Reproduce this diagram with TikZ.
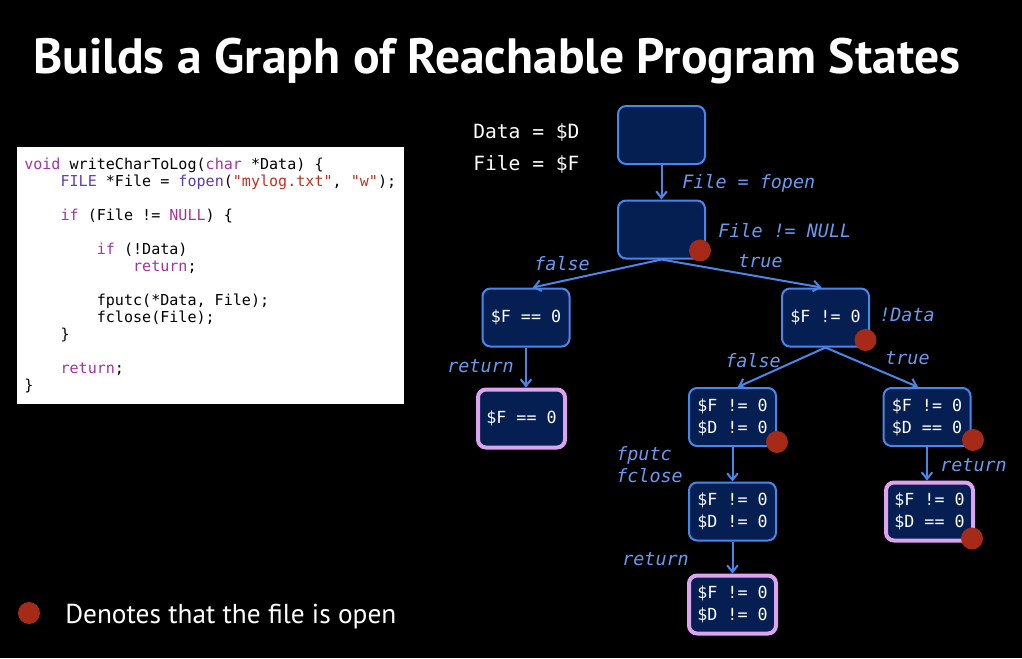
\documentclass[tikz,border=0pt]{standalone}
\usepackage{fontspec}
\setmainfont{PT Sans}
\setmonofont{DejaVu Sans Mono}
\usepackage{xcolor}
\usepackage{tikz}
\usetikzlibrary{positioning,calc,arrows.meta}
\definecolor{slidebg}{HTML}{000000}
\definecolor{statefill}{HTML}{061F52}
\definecolor{stateline}{HTML}{4A86E8}
\definecolor{edgelbl}{HTML}{6A9AF0}
\definecolor{exitline}{HTML}{DCA4EF}
\definecolor{opendot}{HTML}{A52A18}
\definecolor{kwcol}{HTML}{A8329E}
\definecolor{tycol}{HTML}{6A3DAF}
\definecolor{fncol}{HTML}{5B3AAE}
\definecolor{strcol}{HTML}{C4301E}
\newcommand{\kw}[1]{\textcolor{kwcol}{#1}}
\newcommand{\ty}[1]{\textcolor{tycol}{#1}}
\newcommand{\fn}[1]{\textcolor{fncol}{#1}}
\newcommand{\st}[1]{\textcolor{strcol}{#1}}
\newcommand{\ind}[1]{\hphantom{#1}}
\newcommand{\monofont}[2]{\ttfamily\fontsize{#1}{#2}\selectfont}
% fixed width spaces, set inside the node text (align=left resets them)
\newcommand{\fixsp}{\spaceskip=\fontcharwd\font`0\relax\xspaceskip=\spaceskip}

\begin{document}
\begin{tikzpicture}[x=0.75pt, y=-0.75pt,
  state/.style={draw=stateline, line width=1.5pt, fill=statefill, rounded corners=6pt,
    minimum width=65.25pt, minimum height=43.5pt, inner sep=0pt, align=left,
    text=white, font=\monofont{12.5pt}{16.5pt}},
  exitstate/.style={state, draw=exitline, line width=3pt},
  flow/.style={draw=stateline, line width=1.5pt, -{Straight Barb[length=5pt,width=8pt]}},
  lbl/.style={text=edgelbl, inner sep=0pt, anchor=base west,
    font=\monofont{13.8pt}{16.5pt}\itshape},
  dotmark/.style={fill=opendot}]
  \useasboundingbox[fill=slidebg] (0,0) rectangle (1022,658);

  % Title
  \node[anchor=base west, inner sep=0pt, text=white, font=\bfseries\fontsize{37.2pt}{40pt}\selectfont]
    (title) at (33,73) {Builds a Graph of Reachable Program States};

  % Source code
  \node[anchor=north west, fill=white, minimum width=290.25pt, minimum height=192.75pt,
    inner xsep=5.25pt, inner ysep=0pt, text width=279.75pt, align=left,
    font=\monofont{11.3pt}{12.75pt}] (code) at (17,147) {\fixsp
    \kw{void} writeCharToLog(\kw{char} *Data) \{\\
    \ind{0000}\ty{FILE} *File = \fn{fopen}(\st{"mylog.txt"}, \st{"w"});\\
    ~\\
    \ind{0000}\kw{if} (File != \kw{NULL}) \{\\
    ~\\
    \ind{00000000}\kw{if} (!Data)\\
    \ind{000000000000}\kw{return};\\
    ~\\
    \ind{00000000}fputc(*Data, File);\\
    \ind{00000000}fclose(File);\\
    \ind{0000}\}\\
    ~\\
    \ind{0000}\kw{return};\\
    \}};

  % Variable names
  \node[anchor=base west, inner sep=0pt, text=white, font=\monofont{14.7pt}{16pt}]
    (vdata) at (473,138) {Data = \$D};
  \node[anchor=base west, inner sep=0pt, text=white, font=\monofont{14.7pt}{16pt}]
    (vfile) at (473,170) {File = \$F};

  % States
  \node[state] (n0) at (661.5,135) {};
  \node[state] (n1) at (661.5,229.5) {};
  \node[state] (nF) at (526,317.5) {\$F == 0};
  \node[state] (nT) at (825.5,317.5) {\$F != 0};
  \node[exitstate] (nFret) at (521.5,418.5) {\$F == 0};
  \node[state] (nTF) at (732.5,417) {\$F != 0\\\$D != 0};
  \node[state] (nTT) at (927,417) {\$F != 0\\\$D == 0};
  \node[state] (nTF2) at (732.5,511.5) {\$F != 0\\\$D != 0};
  \node[exitstate] (nTFret) at (732.5,604.5) {\$F != 0\\\$D != 0};
  \node[exitstate] (nTTret) at (929.5,511.5) {\$F != 0\\\$D == 0};

  % Transitions
  \draw[flow] (n0) -- (n1);
  \draw[flow] (n1.south) -- ([xshift=5pt]nF.north);
  \draw[flow] (n1.south) -- ([xshift=-3pt]nT.north);
  \draw[flow] (nF) -- (nF.south |- nFret.north);
  \draw[flow] (nT.south) -- ([xshift=4pt]nTF.north);
  \draw[flow] (nT.south) -- ([xshift=-6.75pt]nTT.north);
  \draw[flow] (nTF) -- (nTF2);
  \draw[flow] (nTF2) -- (nTFret);
  \draw[flow] (nTT) -- (nTT.south |- nTTret.north);

  % Transition labels
  \node[lbl] (lfopen) at (682,188) {File = fopen};
  \node[lbl] (lnull) at (718,237) {File != NULL};
  \node[lbl] (lfalse1) at (534,270) {false};
  \node[lbl] (ltrue1) at (738,267) {true};
  \node[lbl] (lret1) at (447,372) {return};
  \node[lbl] (ldata) at (879,321) {!Data};
  \node[lbl] (lfalse2) at (725,367) {false};
  \node[lbl] (ltrue2) at (885,364) {true};
  \node[lbl, align=left, anchor=north west] (lputc) at (616,446) {fputc\\fclose};
  \node[lbl] (lret2) at (622,565) {return};
  \node[lbl] (lret3) at (940,471) {return};

  % File open marks
  \fill[dotmark] ($(n1.south east)+(-6,-9)$) circle (8.25pt);
  \fill[dotmark] ($(nT.south east)+(-4.5,-7.5)$) circle (8.25pt);
  \fill[dotmark] ($(nTF.south east)+(0,-5)$) circle (8.25pt);
  \fill[dotmark] ($(nTT.south east)+(1.5,-7)$) circle (8.25pt);
  \fill[dotmark] ($(nTTret.south east)+(-3,-4)$) circle (8.25pt);

  % Legend
  \fill[dotmark] (29,613) circle (8.25pt);
  \node[anchor=base west, inner sep=0pt, text=white, font=\fontsize{20.5pt}{24pt}\selectfont]
    (legend) at (65,623) {Denotes that the file is open};
\end{tikzpicture}
\end{document}
